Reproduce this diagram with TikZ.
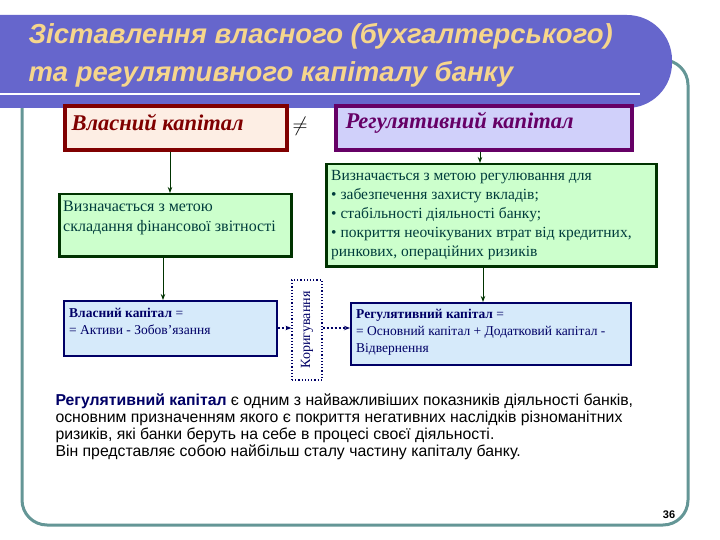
\documentclass[tikz,border=0pt]{standalone}
\usepackage{fontspec}
\setmainfont{Liberation Serif}
\setsansfont{Liberation Sans}
\usetikzlibrary{arrows.meta,shadows}
\definecolor{banner}{RGB}{102,102,204}
\definecolor{ttl}{RGB}{246,214,140}
\definecolor{frame}{RGB}{100,150,150}
\definecolor{dred}{RGB}{128,0,0}
\definecolor{pinkf}{RGB}{253,238,228}
\definecolor{purp}{RGB}{102,0,102}
\definecolor{lav}{RGB}{208,208,250}
\definecolor{gfill}{RGB}{204,255,204}
\definecolor{gline}{RGB}{0,51,0}
\definecolor{bfill}{RGB}{214,234,250}
\definecolor{navy}{RGB}{0,0,102}
\definecolor{txtg}{RGB}{0,60,60}
\begin{document}
\begin{tikzpicture}[x=1pt,y=-1pt,
  greenbox/.style={draw=gline,line width=2.5pt,fill=gfill,drop shadow={opacity=0.5,shadow xshift=2pt,shadow yshift=-2pt},inner sep=0pt},
  bluebox/.style={draw=navy,line width=1.8pt,fill=bfill,inner sep=0pt},
  arr/.style={-{Stealth[length=6pt]},line width=1pt,draw=gline},
  darr/.style={-{Stealth[length=6pt]},line width=2pt,dotted,draw=navy},
  btxt/.style={text=txtg,align=left,anchor=north west,inner sep=0pt},
]
\useasboundingbox (0,0) rectangle (720,540);
\fill[white] (0,0) rectangle (720,540);
% frame
\draw[frame,line width=3pt,rounded corners=25pt] (22,60) rectangle (688,525);
% banner
\fill[banner,rounded corners=45pt] (-50,15) rectangle (672,108);
\fill[banner] (0,15) rectangle (100,108);
\draw[white,line width=1.2pt] (0,94) -- (640,94);
\node[anchor=west,text=ttl,font=\sffamily\bfseries\itshape\fontsize{27.5}{30}\selectfont] (t1) at (25,36) {Зіставлення власного (бухгалтерського)};
\node[anchor=west,text=ttl,font=\sffamily\bfseries\itshape\fontsize{27.5}{30}\selectfont] (t2) at (25,74) {та регулятивного капіталу банку};
% top boxes
\node[draw=dred,line width=4pt,fill=pinkf,minimum width=222pt,minimum height=44pt,anchor=north west,inner sep=0pt] (b1) at (63,104) {};
\node[anchor=west,text=dred,font=\bfseries\itshape\fontsize{22.5}{24}\selectfont] at (68,123) {Власний капітал};
\node[font=\bfseries\fontsize{20}{22}\selectfont] (ne) at (300,126) {$\neq$};
\node[draw=purp,line width=4pt,fill=lav,minimum width=296pt,minimum height=44pt,anchor=north west,inner sep=0pt] (b2) at (334,104) {};
\node[anchor=west,text=purp,font=\bfseries\itshape\fontsize{22.5}{24}\selectfont] at (342,123) {Регулятивний капітал};
% green boxes
\node[greenbox,minimum width=232pt,minimum height=62pt,anchor=north west] (b3) at (58,193) {};
\node[btxt,font=\fontsize{16}{20}\selectfont] at (63,201) {Визначається з метою\\складання фінансової звітності};
\node[greenbox,minimum width=330pt,minimum height=102pt,anchor=north west] (b4) at (325,163) {};
\node[btxt,font=\fontsize{15.5}{19}\selectfont] at (331,170) {Визначається з метою регулювання для\\• забезпечення захисту вкладів;\\• стабільності діяльності банку;\\• покриття неочікуваних втрат від кредитних,\\ринкових, операційних ризиків};
% blue boxes
\node[bluebox,minimum width=213pt,minimum height=55pt,anchor=north west] (b5) at (63,300) {};
\node[btxt,text=navy,font=\fontsize{13.5}{17}\selectfont] at (69,308) {\textbf{Власний капітал} =\\= Активи - Зобов'язання};
\node[bluebox,minimum width=280pt,minimum height=62pt,anchor=north west] (b6) at (350,302) {};
\node[btxt,text=navy,font=\fontsize{13.5}{17}\selectfont] at (356,309) {\textbf{Регулятивний капітал} =\\= Основний капітал + Додатковий капітал -\\Відвернення};
\node[draw=navy,line width=1.2pt,dotted,fill=white,minimum width=30pt,minimum height=100pt,inner sep=0pt] (kor) at (307,330) {};
\node[rotate=90,text=navy,font=\fontsize{14}{16}\selectfont] at (307,330) {Коригування};
% arrows
\draw[arr] (b1.south -| 170,0) -- (b3.north -| 170,0);
\draw[arr] (b2.south -| 480,0) -- (b4.north -| 480,0);
\draw[arr] (b3.south -| 163,0) -- (b5.north -| 163,0);
\draw[arr] (b4.south -| 483,0) -- (b6.north -| 483,0);
\draw[darr] (b5.east |- 0,328) -- (kor.west |- 0,328);
\draw[darr] (kor.east |- 0,328) -- (b6.west |- 0,328);
% paragraph
\node[anchor=north west,align=left,font=\sffamily\fontsize{15.8}{17}\selectfont] (para) at (52,390) {\textcolor{navy}{\textbf{Регулятивний капітал}} є одним з найважливіших показників діяльності банків,\\основним призначенням якого є покриття негативних наслідків різноманітних\\ризиків, які банки беруть на себе в процесі своєї діяльності.\\Він представляє собою найбільш сталу частину капіталу банку.};
\node[font=\sffamily\bfseries\fontsize{11}{13}\selectfont] (pg) at (669,515) {36};
\end{tikzpicture}
\end{document}
